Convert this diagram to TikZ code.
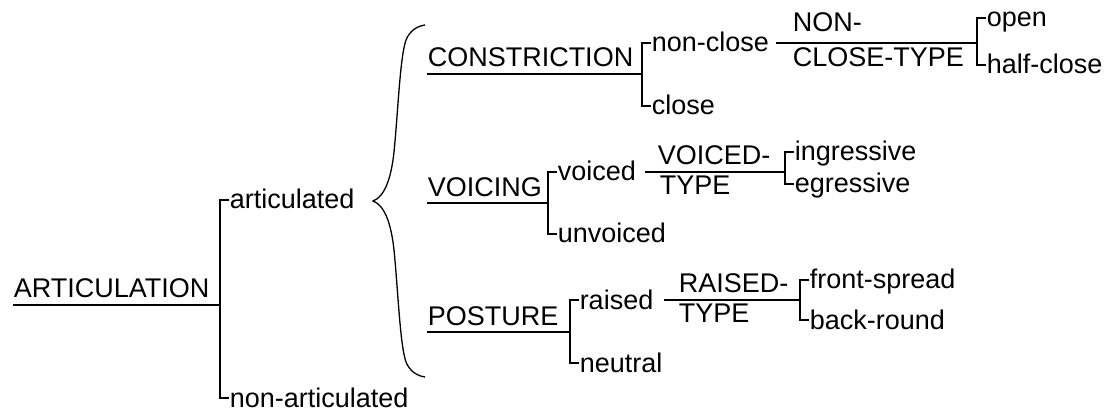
\documentclass[tikz,border=0pt]{standalone}
\usepackage{fontspec}
\setmainfont{Liberation Sans}
\begin{document}
\begin{tikzpicture}[x=1pt,y=-1pt,
  line width=1.5pt,
  every node/.style={font=\fontsize{27}{32}\selectfont},
  par/.style={inner sep=0pt, anchor=base west},
  lbl/.style={inner sep=0pt, anchor=west, text height=20pt, text depth=2pt},
  conn/.style={draw=black, line width=1.5pt}]
\useasboundingbox (0,0) rectangle (1110,419);
% level 0
\node[par] (art) at (13,298) {ARTICULATION};
\coordinate (b0) at (220,305);
\draw[conn] (art.base west |- b0) -- (b0);
\node[lbl] (artd) at (229,200) {articulated};
\node[lbl] (nart) at (229,398) {non-articulated};
\draw[conn] (artd.west) -| (b0) |- (nart.west);
% brace
\draw[line width=1.3pt] (425,25) .. controls (418,26) and (410,30) .. (406,40)
  .. controls (400,57) and (398,112) .. (394,152)
  .. controls (391,180) and (384,197) .. (373,201)
  .. controls (384,205) and (391,222) .. (394,250)
  .. controls (398,290) and (400,345) .. (406,362)
  .. controls (410,372) and (418,376) .. (425,377);
% CONSTRICTION
\node[par] (con) at (427,67) {CONSTRICTION};
\coordinate (b1) at (642,74);
\draw[conn] (con.base west |- b1) -- (b1);
\node[lbl] (ncl) at (651,43) {non-close};
\node[lbl] (cl) at (651,106) {close};
\draw[conn] (ncl.west) -| (b1) |- (cl.west);
\coordinate (b1a) at (977,43);
\draw[conn] ([xshift=6pt]ncl.east) -- (b1a);
\node[par] (nct) at (792,32) {NON-};
\node[par] (ncb) at (792,67) {CLOSE-TYPE};
\node[lbl] (op) at (986,18) {open};
\node[lbl] (hc) at (986,65) {half-close};
\draw[conn] (op.west) -| (b1a) |- (hc.west);
% VOICING
\node[par] (voi) at (427,197) {VOICING};
\coordinate (b2) at (548,203);
\draw[conn] (voi.base west |- b2) -- (b2);
\node[lbl] (vd) at (557,172) {voiced};
\node[lbl] (uv) at (557,234) {unvoiced};
\draw[conn] (vd.west) -| (b2) |- (uv.west);
\coordinate (b2a) at (785,172);
\draw[conn] ([xshift=8pt]vd.east) -- (b2a);
\node[par] (vtt) at (657,165) {VOICED-};
\node[par] (vtb) at (659,195) {TYPE};
\node[lbl] (ing) at (794,152) {ingressive};
\node[lbl] (egr) at (794,184) {egressive};
\draw[conn] (ing.west) -| (b2a) |- (egr.west);
% POSTURE
\node[par] (pos) at (427,325) {POSTURE};
\coordinate (b3) at (570,332);
\draw[conn] (pos.base west |- b3) -- (b3);
\node[lbl] (rs) at (579,300) {raised};
\node[lbl] (neu) at (579,363) {neutral};
\draw[conn] (rs.west) -| (b3) |- (neu.west);
\coordinate (b3a) at (800,300);
\draw[conn] ([xshift=10pt]rs.east) -- (b3a);
\node[par] (rtt) at (678,293) {RAISED-};
\node[par] (rtb) at (678,323) {TYPE};
\node[lbl] (fs) at (809,280) {front-spread};
\node[lbl] (br) at (809,320) {back-round};
\draw[conn] (fs.west) -| (b3a) |- (br.west);
\end{tikzpicture}
\end{document}
